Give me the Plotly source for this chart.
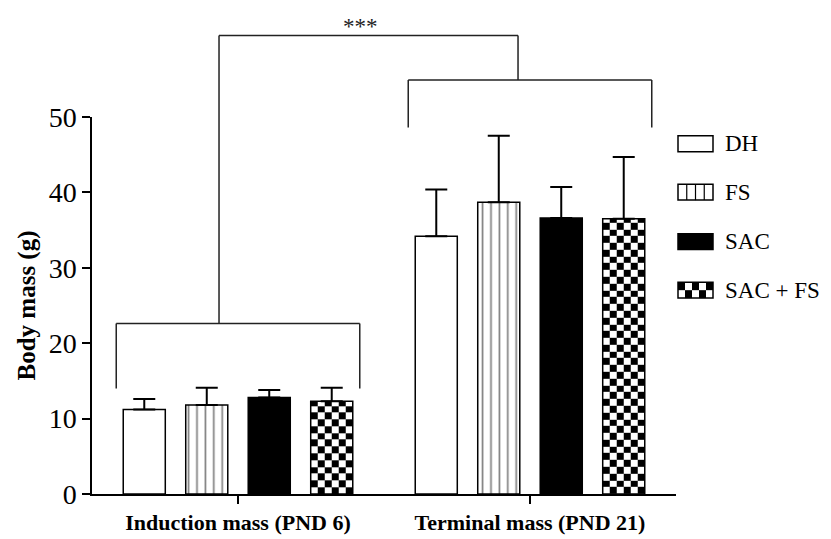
import numpy as np
import plotly.graph_objects as go

# ---------------- data ----------------
categories = ["Induction mass (PND 6)", "Terminal mass (PND 21)"]
series_names = ["DH", "FS", "SAC", "SAC + FS"]
dh_mean = [11.2, 34.2]
dh_err = [1.4, 6.2]
fs_mean = [11.8, 38.7]
fs_err = [2.3, 8.8]
sac_mean = [12.8, 36.6]
sac_err = [1.0, 4.1]
sacfs_mean = [12.3, 36.5]
sacfs_err = [1.8, 8.2]
y_ticks = [0, 10, 20, 30, 40, 50]
signif_label = "***"

# ---------------- layout constants ----------------
W, H = 831, 539
ML, MR, MT, MB = 84, 163, 109, 49
X_RANGE = [-0.5, 1.5]
Y_RANGE = [0, 50]
SLOT = 0.214
BAR_W = 0.144
FONT = "Liberation Serif"

xpos = list(range(len(categories)))


def offset(i):
    return (i - 1.5) * SLOT - BAR_W / 2


def xp(xd):  # data x -> paper
    return (xd - X_RANGE[0]) / (X_RANGE[1] - X_RANGE[0])


def yp(yd):  # data y -> paper
    return (yd - Y_RANGE[0]) / (Y_RANGE[1] - Y_RANGE[0])


PW = W - ML - MR
PH = H - MT - MB


def pxx(px):  # pixel x -> paper
    return (px - ML) / PW


def pxy(py):  # pixel y -> paper
    return (H - MB - py) / PH


err_style = lambda e: dict(type="data", array=e, arrayminus=[0] * len(e), symmetric=False,
                           color="black", thickness=2, width=11)
line_style = dict(color="black", width=1.5)

fig = go.Figure()

# checkerboard fill for SAC + FS (heatmap cells clipped to bar extents)
cell_x = BAR_W / 6
cell_y = 0.9
for j, v in enumerate(sacfs_mean):
    x0 = xpos[j] + offset(3)
    xe = [x0 + k * cell_x for k in range(7)]
    ye = list(np.arange(0, v, cell_y)) + [v]
    nr, nc = len(ye) - 1, len(xe) - 1
    z = [[(r + c) % 2 for c in range(nc)] for r in range(nr)]
    fig.add_trace(go.Heatmap(x=xe, y=ye, z=z, zmin=0, zmax=1, zsmooth=False,
                             colorscale=[[0, "white"], [1, "black"]], showscale=False,
                             hoverinfo="skip"))

fig.add_trace(go.Bar(x=xpos, y=dh_mean, name=series_names[0], width=BAR_W, offset=offset(0),
                     marker=dict(color="white", line=line_style), error_y=err_style(dh_err)))
fig.add_trace(go.Bar(x=xpos, y=fs_mean, name=series_names[1], width=BAR_W, offset=offset(1),
                     marker=dict(color="white", line=line_style,
                                 pattern=dict(shape="|", size=8.4, solidity=0.2,
                                              fgcolor="black", bgcolor="white")),
                     error_y=err_style(fs_err)))
fig.add_trace(go.Bar(x=xpos, y=sac_mean, name=series_names[2], width=BAR_W, offset=offset(2),
                     marker=dict(color="black", line=line_style), error_y=err_style(sac_err)))
fig.add_trace(go.Bar(x=xpos, y=sacfs_mean, name=series_names[3], width=BAR_W, offset=offset(3),
                     marker=dict(color="rgba(0,0,0,0)", line=line_style), error_y=err_style(sacfs_err)))

shapes = []
br = dict(color="#222", width=1.5)


def seg(x0, y0, x1, y1):
    shapes.append(dict(type="line", xref="paper", yref="paper", x0=x0, y0=y0, x1=x1, y1=y1,
                       line=br))


# group brackets
half = 0.417
for g, (ytop, ybot) in enumerate([(22.6, 14.0), (54.9, 48.6)]):
    c = xpos[g]
    seg(xp(c - half), yp(ytop), xp(c + half), yp(ytop))
    seg(xp(c - half), yp(ytop), xp(c - half), yp(ybot))
    seg(xp(c + half), yp(ytop), xp(c + half), yp(ybot))
# top bracket
top_y = 60.8
lx, rx = -0.065, 0.959
seg(xp(lx), yp(22.6), xp(lx), yp(top_y))
seg(xp(lx), yp(top_y), xp(rx), yp(top_y))
seg(xp(rx), yp(top_y), xp(rx), yp(54.9))

annotations = [dict(text=signif_label, x=xp(0.418), y=pxy(18), xref="paper", yref="paper",
                    xanchor="center", yanchor="middle", showarrow=False,
                    font=dict(family=FONT, size=23, color="#222"))]

# manual legend
leg_rows = [136, 185, 235, 284]
bx0, bx1, bh = 670, 705, 16
for i, (name, ry) in enumerate(zip(series_names, leg_rows)):
    y0, y1 = ry - bh / 2, ry + bh / 2
    fill = "black" if i == 2 else "white"
    shapes.append(dict(type="rect", xref="paper", yref="paper", x0=pxx(bx0), x1=pxx(bx1),
                       y0=pxy(y1), y1=pxy(y0), fillcolor=fill, line=dict(color="black", width=1.5)))
    if i == 1:
        for k in range(1, 4):
            lxp = bx0 + k * (bx1 - bx0) / 4
            shapes.append(dict(type="line", xref="paper", yref="paper", x0=pxx(lxp), x1=pxx(lxp),
                               y0=pxy(y1), y1=pxy(y0), line=dict(color="black", width=1.2)))
    if i == 3:
        nc, nr = 5, 2
        cw, ch = (bx1 - bx0) / nc, bh / nr
        for r in range(nr):
            for c in range(nc):
                if (r + c) % 2 == 0:
                    shapes.append(dict(type="rect", xref="paper", yref="paper",
                                       x0=pxx(bx0 + c * cw), x1=pxx(bx0 + (c + 1) * cw),
                                       y0=pxy(y0 + (r + 1) * ch), y1=pxy(y0 + r * ch),
                                       fillcolor="black", line=dict(width=0)))
    annotations.append(dict(text=name, x=pxx(715), y=pxy(ry), xref="paper", yref="paper",
                            xanchor="left", yanchor="middle", showarrow=False,
                            font=dict(family=FONT, size=23, color="black")))

fig.update_layout(
    width=W, height=H, margin=dict(l=ML, r=MR, t=MT, b=MB),
    barmode="overlay", showlegend=False,
    paper_bgcolor="white", plot_bgcolor="white",
    shapes=shapes, annotations=annotations,
    font=dict(family=FONT, color="black"),
)
fig.update_xaxes(range=X_RANGE, tickvals=xpos, ticktext=[f"<b>{c}</b>" for c in categories],
                 showgrid=False, zeroline=False, showline=True, linecolor="black", linewidth=1.5,
                 ticks="outside", ticklen=8, tickwidth=1.5, tickcolor="black",
                 tickfont=dict(family=FONT, size=22, color="black"))
fig.update_yaxes(range=Y_RANGE, tickvals=y_ticks, showgrid=False, zeroline=False, showline=True,
                 linecolor="black", linewidth=1.5, ticks="outside", ticklen=8, tickwidth=1.5,
                 tickcolor="black", tickfont=dict(family=FONT, size=28, color="black"),
                 title=dict(text="<b>Body mass (g)</b>", font=dict(family=FONT, size=25, color="black"),
                            standoff=6))

fig.write_html("out.html")
